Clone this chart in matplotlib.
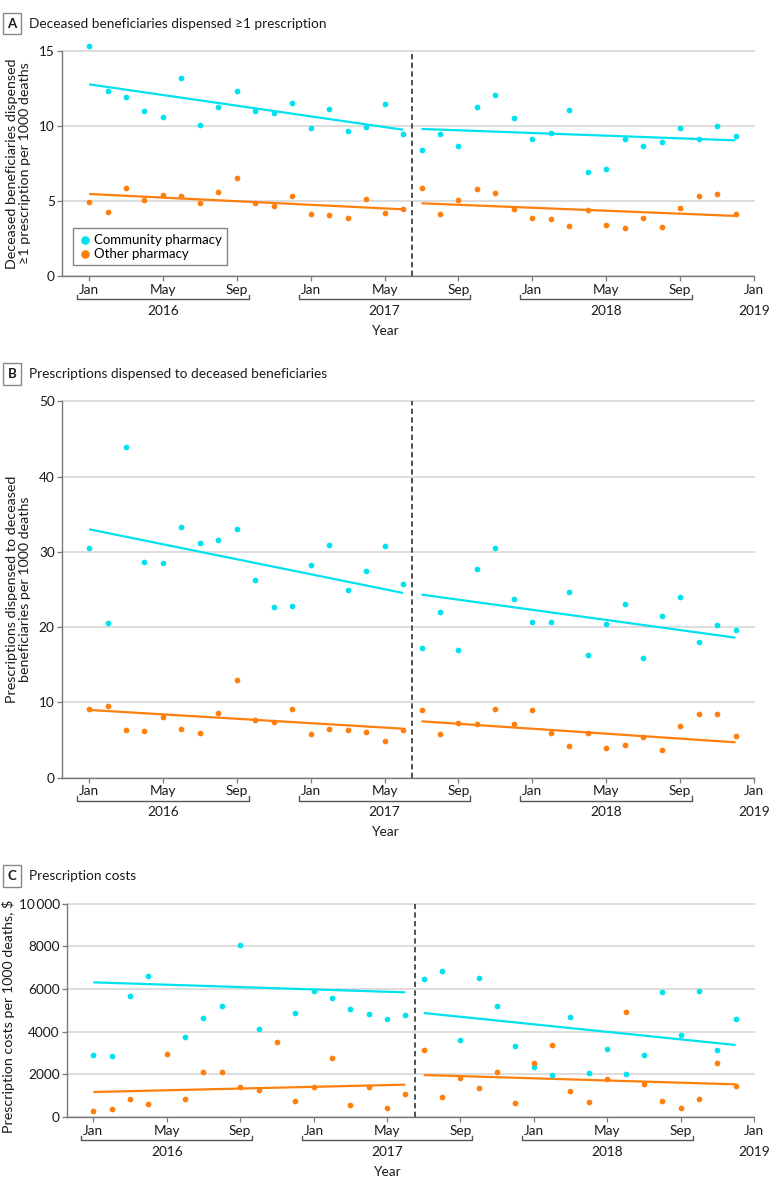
import numpy as np
import matplotlib
matplotlib.use("Agg")
import matplotlib.pyplot as plt
from matplotlib.transforms import blended_transform_factory
from matplotlib.lines import Line2D

plt.rcParams['font.family'] = ['Lato', 'DejaVu Sans']

# ---------------- data ----------------
months = list(range(36))  # Jan 2016 .. Dec 2018
tick_pos = [0, 4, 8, 12, 16, 20, 24, 28, 32, 36]
tick_labels = ["Jan", "May", "Sep", "Jan", "May", "Sep", "Jan", "May", "Sep", "Jan"]
year_labels = ["2016", "2017", "2018", "2019"]
year_label_pos = [4, 16, 28, 36]
year_brackets = [(0, 8), (12, 20), (24, 32)]
break_month = 17.5
seg_months = [(0, 17), (18, 35)]

a_comm = [15.29, 12.30, 11.92, 10.96, 10.59, 13.18, 10.05, 11.25, 12.34, 10.99, 10.85, 11.50,
          9.83, 11.10, 9.65, 9.92, 11.43, 9.43, 8.41, 9.47, 8.63, 11.27, 12.07, 10.54,
          9.10, 9.52, 11.05, 6.90, 7.12, 9.14, 8.65, 8.90, 9.87, 9.12, 10.01, 9.30]
a_other = [4.93, 4.24, 5.88, 5.04, 5.41, 5.35, 4.84, 5.61, 6.55, 4.86, 4.64, 5.30,
           4.15, 4.04, 3.84, 5.15, 4.22, 4.46, 5.88, 4.11, 5.04, 5.81, 5.53, 4.46,
           3.88, 3.80, 3.31, 4.37, 3.37, 3.20, 3.84, 3.26, 4.51, 5.33, 5.46, 4.15]
a_comm_trend = [(12.76, 9.74), (9.79, 9.03)]
a_other_trend = [(5.46, 4.44), (4.84, 4.00)]

b_comm = [30.52, 20.55, 43.93, 28.70, 28.48, 33.26, 31.14, 31.54, 33.00, 26.22, 22.68, 22.77,
          28.30, 30.87, 24.90, 27.42, 30.74, 25.73, 17.23, 22.01, 17.01, 27.73, 30.56, 23.70,
          20.73, 20.64, 24.63, 16.26, 20.42, 23.04, 15.90, 21.44, 23.97, 18.07, 20.33, 19.58]
b_other = [9.09, 9.57, 6.30, 6.20, 8.02, 6.51, 5.94, 8.60, 12.98, 7.67, 7.40, 9.09,
           5.81, 6.43, 6.38, 6.07, 4.88, 6.30, 9.00, 5.81, 7.31, 7.09, 9.13, 7.18,
           8.95, 5.90, 4.25, 5.98, 3.95, 4.39, 5.37, 3.64, 6.87, 8.46, 8.46, 5.50]
b_comm_trend = [(33.0, 24.54), (24.32, 18.6)]
b_other_trend = [(9.0, 6.51), (7.49, 4.7)]

c_comm = [2906, 2875, 5672, 6609, np.nan, 3766, 4641, 5188, 8063, 4109, np.nan, 4859,
          5891, 5578, 5063, 4813, 4594, 4766, 6469, 6844, 3625, 6500, 5188, 3328,
          2344, 1984, 4672, 2063, 3188, 2016, 2891, 5875, 3844, 5891, 3141, 4578]
c_other = [281, 391, 828, 609, 2969, 859, 2094, 2125, 1391, 1281, 3500, 750,
           1422, 2781, 578, 1422, 422, 1063, 3141, 953, 1813, 1375, 2125, 641,
           2516, 3375, 1234, 703, 1781, 4906, 1547, 766, 406, 828, 2531, 1469]
c_comm_trend = [(6313, 5844), (4875, 3375)]
c_other_trend = [(1172, 1516), (1969, 1531)]

series_names = ["Community pharmacy", "Other pharmacy"]
CYAN = "#00E3EE"
ORANGE = "#FF7F0E"

# ---------------- layout ----------------
W, H = 780, 1187
fig = plt.figure(figsize=(W / 100, H / 100), dpi=100)

def fy(px):
    return 1 - px / H

panels = [
    dict(letter="A", title="Deceased beneficiaries dispensed \u22651 prescription",
         rect=[62.3 / W, fy(276), (754 - 62.3) / W, 225.3 / H], bottom=276, title_y=23.5,
         xlim=(-1.45, 36), ylim=(0, 15), yticks=[0, 5, 10, 15],
         yticklabels=["0", "5", "10", "15"],
         ylabel="Deceased beneficiaries dispensed\n\u22651 prescription per 1000 deaths",
         ylabel_x=-0.045, ylabel_y=0.5,
         comm=a_comm, other=a_other, ct=a_comm_trend, ot=a_other_trend, legend=True),
    dict(letter="B", title="Prescriptions dispensed to deceased beneficiaries",
         rect=[62.3 / W, fy(777.7), (754 - 62.3) / W, 376.4 / H], bottom=777.7, title_y=374,
         xlim=(-1.45, 36), ylim=(0, 50), yticks=[0, 10, 20, 30, 40, 50],
         yticklabels=["0", "10", "20", "30", "40", "50"],
         ylabel="Prescriptions dispensed to deceased\nbeneficiaries per 1000 deaths",
         ylabel_x=-0.045, ylabel_y=0.5,
         comm=b_comm, other=b_other, ct=b_comm_trend, ot=b_other_trend, legend=False),
    dict(letter="C", title="Prescription costs",
         rect=[67.3 / W, fy(1117), (754 - 67.3) / W, 213.3 / H], bottom=1117, title_y=876,
         xlim=(-1.42, 36), ylim=(0, 10000), yticks=[0, 2000, 4000, 6000, 8000, 10000],
         yticklabels=["0", "2000", "4000", "6000", "8000", "10\u2009000"],
         ylabel="Prescription costs per 1000 deaths, $",
         ylabel_x=-0.076, ylabel_y=0.47,
         comm=c_comm, other=c_other, ct=c_comm_trend, ot=c_other_trend, legend=False),
]

SPINE = "#7a7a7a"
GRID = "#dadada"
TXT = "#1a1a1a"

for p in panels:
    ax = fig.add_axes(p["rect"])
    ax.set_xlim(*p["xlim"])
    ax.set_ylim(*p["ylim"])
    for s in ["top", "right"]:
        ax.spines[s].set_visible(False)
    for s in ["left", "bottom"]:
        ax.spines[s].set_color(SPINE)
        ax.spines[s].set_linewidth(1.0)
    ax.set_yticks(p["yticks"])
    ax.set_yticklabels(p["yticklabels"])
    ax.set_xticks(tick_pos)
    ax.set_xticklabels(tick_labels)
    ax.tick_params(axis="both", colors=SPINE, labelcolor=TXT, labelsize=9.8,
                   length=3.5, width=0.9, pad=2)
    ax.yaxis.grid(True, color=GRID, linewidth=1.3)
    ax.set_axisbelow(True)
    for gl in ax.get_ygridlines():
        gl.set_clip_on(False)

    ax.scatter(months, p["comm"], s=17, color=CYAN, zorder=3, linewidths=0,
               label=series_names[0], clip_on=False)
    ax.scatter(months, p["other"], s=17, color=ORANGE, zorder=3, linewidths=0,
               label=series_names[1], clip_on=False)
    for (m0, m1), (v0, v1) in zip(seg_months, p["ct"]):
        ax.plot([m0, m1], [v0, v1], color=CYAN, lw=1.6, zorder=2, solid_capstyle="butt")
    for (m0, m1), (v0, v1) in zip(seg_months, p["ot"]):
        ax.plot([m0, m1], [v0, v1], color=ORANGE, lw=1.6, zorder=2, solid_capstyle="butt")
    ax.axvline(break_month, color="#333333", lw=1.2, ls=(0, (3.2, 2.0)), zorder=1)

    ax.set_ylabel(p["ylabel"], fontsize=10.3, color=TXT, linespacing=1.12)
    ax.yaxis.set_label_coords(p["ylabel_x"], p["ylabel_y"])

    # year brackets and labels below the tick labels
    tr = blended_transform_factory(ax.transData, fig.transFigure)
    b = p["bottom"]
    for (s0, s1) in year_brackets:
        xs = [s0 - 0.65, s0 - 0.65, s1 + 0.65, s1 + 0.65]
        ys = [fy(b + 18.5), fy(b + 23.3), fy(b + 23.3), fy(b + 18.5)]
        fig.add_artist(Line2D(xs, ys, transform=tr, color="#555555", lw=1.0))
    for lab, xp in zip(year_labels, year_label_pos):
        fig.text(xp, fy(b + 34.8), lab, transform=tr, ha="center", va="center",
                 fontsize=9.8, color=TXT)
    fig.text(16.05, fy(b + 54.8), "Year", transform=tr, ha="center", va="center",
             fontsize=9.8, color=TXT)

    # panel label and title
    fig.text(12.2 / W, fy(p["title_y"]), p["letter"], ha="center", va="center",
             fontsize=9.5, fontweight="bold", color=TXT,
             bbox=dict(boxstyle="square,pad=0.35", facecolor="white",
                       edgecolor="#888888", linewidth=1.0))
    fig.text(29.5 / W, fy(p["title_y"]), p["title"], ha="left", va="center",
             fontsize=9.8, color=TXT)

    if p["legend"]:
        leg = ax.legend(loc="lower left", bbox_to_anchor=(0.0155, 0.049),
                        borderaxespad=0, frameon=True, fancybox=False,
                        fontsize=9.5, handletextpad=0.2, borderpad=0.4,
                        labelspacing=0.15, handlelength=1.0, markerscale=1.5)
        leg.get_frame().set_edgecolor("#666666")
        leg.get_frame().set_linewidth(1.0)

fig.savefig("out.png", dpi=100, facecolor="white")
